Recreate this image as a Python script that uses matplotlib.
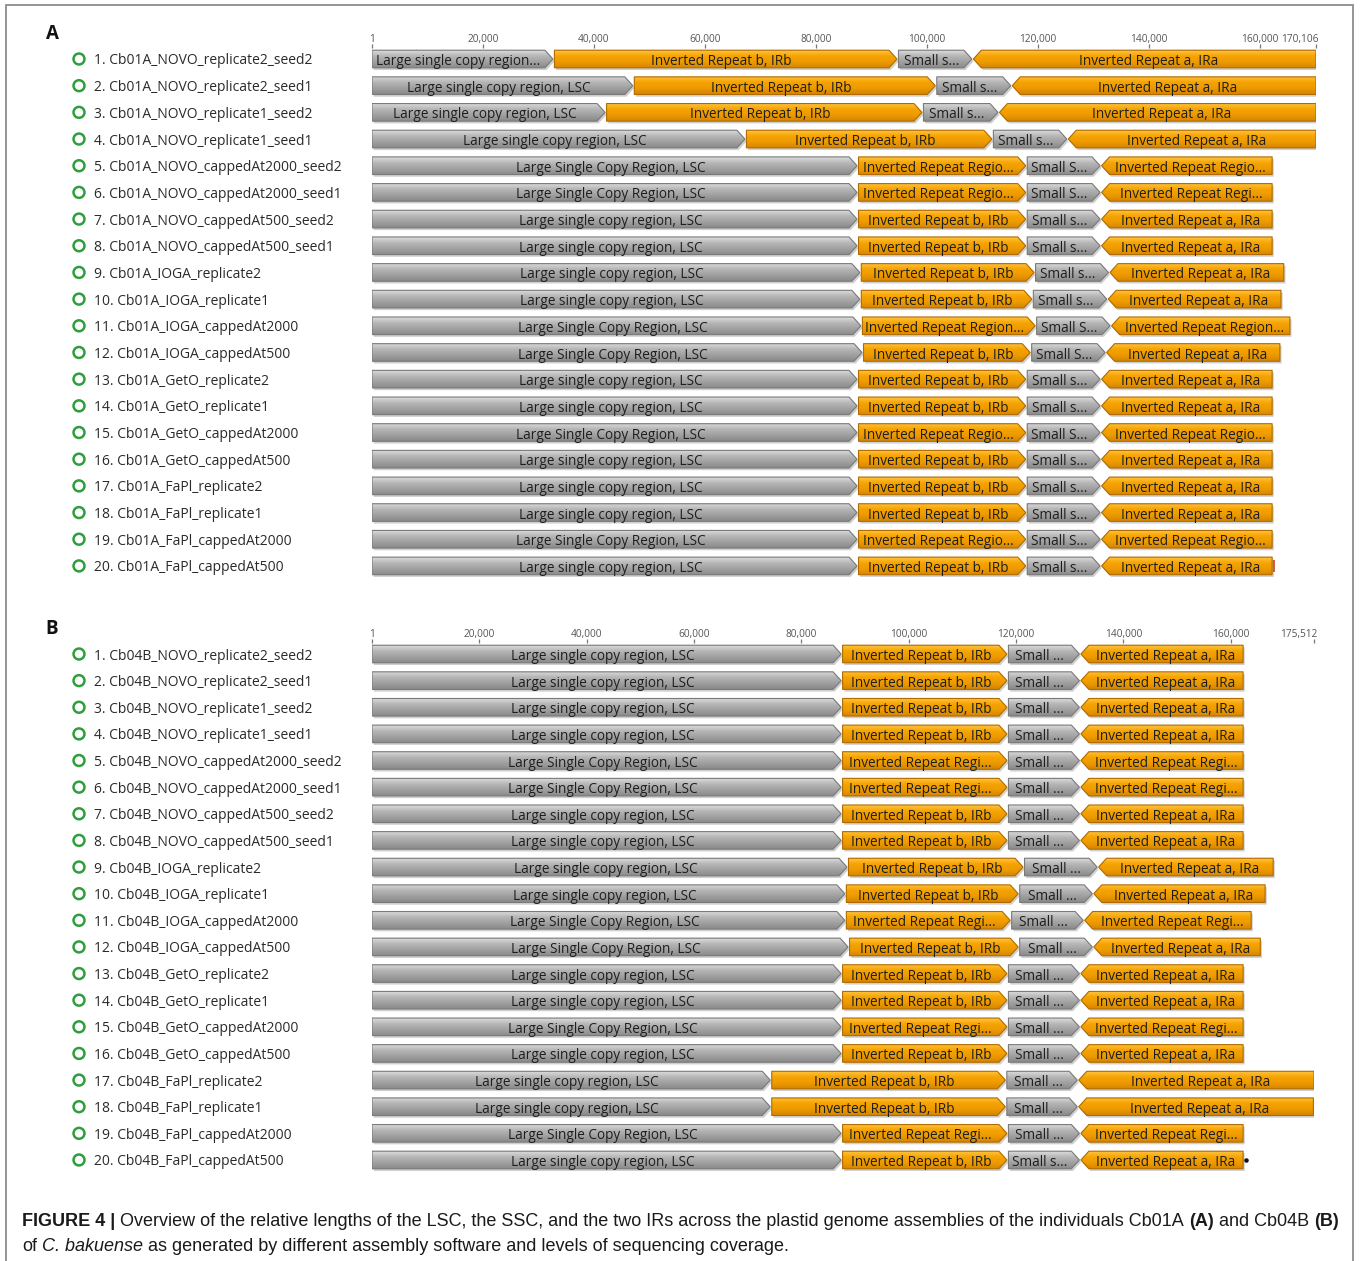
import numpy as np
import matplotlib
matplotlib.use('Agg')
import matplotlib.pyplot as plt
import matplotlib.patheffects as pe
from matplotlib.colors import LinearSegmentedColormap
from matplotlib.patches import Polygon, Rectangle
from matplotlib import transforms

W, H = 1360, 1261

runs = ['NOVO_replicate2_seed2', 'NOVO_replicate2_seed1', 'NOVO_replicate1_seed2',
        'NOVO_replicate1_seed1', 'NOVO_cappedAt2000_seed2', 'NOVO_cappedAt2000_seed1',
        'NOVO_cappedAt500_seed2', 'NOVO_cappedAt500_seed1', 'IOGA_replicate2',
        'IOGA_replicate1', 'IOGA_cappedAt2000', 'IOGA_cappedAt500', 'GetO_replicate2',
        'GetO_replicate1', 'GetO_cappedAt2000', 'GetO_cappedAt500', 'FaPl_replicate2',
        'FaPl_replicate1', 'FaPl_cappedAt2000', 'FaPl_cappedAt500']

# Cb01A: end coordinate (bp) of LSC, IRb, SSC and whole sequence for each assembly
a_lsc = [32600, 47000, 42000, 67200, 87400, 87400, 87400, 87400, 87900, 87900,
         88100, 88300, 87400, 87400, 87400, 87400, 87400, 87400, 87400, 87400]
a_irb = [94600, 101500, 99100, 111700, 117800, 117800, 117800, 117800, 119300, 118900,
         119500, 118600, 117800, 117800, 117800, 117800, 117800, 117800, 117800, 117800]
a_ssc = [108100, 115100, 112800, 125200, 131200, 131200, 131200, 131200, 132700, 132400,
         133000, 132100, 131200, 131200, 131200, 131200, 131200, 131200, 131200, 131200]
a_total = [170106, 170106, 170106, 170106, 162200, 162200, 162200, 162200, 164300, 163800,
           165400, 163600, 162200, 162200, 162200, 162200, 162200, 162200, 162200, 162200]
a_ticks = [1, 20000, 40000, 60000, 80000, 100000, 120000, 140000, 160000, 170106]

# Cb04B
b_lsc = [87400, 87400, 87400, 87400, 87400, 87400, 87400, 87400, 88500, 88100,
         88100, 88700, 87400, 87400, 87400, 87400, 74200, 74200, 87400, 87400]
b_irb = [118300, 118300, 118300, 118300, 118300, 118300, 118300, 118300, 121300, 120400,
         118900, 120400, 118300, 118300, 118300, 118300, 118000, 118000, 118300, 118300]
b_ssc = [131800, 131800, 131800, 131800, 131800, 131800, 131800, 131800, 135100, 134200,
         132500, 134200, 131800, 131800, 131800, 131800, 131400, 131400, 131800, 131800]
b_total = [162300, 162300, 162300, 162300, 162300, 162300, 162300, 162300, 167900, 166400,
           163800, 165500, 162300, 162300, 162300, 162300, 175512, 175400, 162300, 162300]
b_ticks = [1, 20000, 40000, 60000, 80000, 100000, 120000, 140000, 160000, 175512]

lc = ('Large single copy region, LSC', 'Inverted Repeat b, IRb', 'Small s...', 'Inverted Repeat a, IRa')
uc = ('Large Single Copy Region, LSC', 'Inverted Repeat b, IRb', 'Small S...', 'Inverted Repeat a, IRa')
uc_regio = ('Large Single Copy Region, LSC', 'Inverted Repeat Regio...', 'Small S...', 'Inverted Repeat Regio...')
a_labels = [
    ('Large single copy region...', 'Inverted Repeat b, IRb', 'Small s...', 'Inverted Repeat a, IRa'),
    lc, lc, lc, uc_regio,
    ('Large Single Copy Region, LSC', 'Inverted Repeat Regio...', 'Small S...', 'Inverted Repeat Regi...'),
    lc, lc, lc, lc,
    ('Large Single Copy Region, LSC', 'Inverted Repeat Region...', 'Small S...', 'Inverted Repeat Region...'),
    uc, lc, lc, uc_regio, lc, lc, lc, uc_regio, lc]

lc_b = ('Large single copy region, LSC', 'Inverted Repeat b, IRb', 'Small ...', 'Inverted Repeat a, IRa')
uc_b = ('Large Single Copy Region, LSC', 'Inverted Repeat b, IRb', 'Small ...', 'Inverted Repeat a, IRa')
uc_regi = ('Large Single Copy Region, LSC', 'Inverted Repeat Regi...', 'Small ...', 'Inverted Repeat Regi...')
b_labels = [lc_b, lc_b, lc_b, lc_b, uc_regi, uc_regi, lc_b, lc_b, lc_b, lc_b,
            uc_regi, uc_b, lc_b, lc_b, uc_regi, lc_b, lc_b, lc_b, uc_regi, lc]

GREY = LinearSegmentedColormap.from_list('g', ['#dcdcdc', '#b6b6b6', '#a0a0a0', '#8a8a8a'])
ORANGE = LinearSegmentedColormap.from_list('o', ['#ffc544', '#f6a400', '#ec9a00', '#d68500'])
EDGE = {'g': '#7a7a7a', 'o': '#b06c00'}
GRAD = np.linspace(0, 1, 64).reshape(-1, 1)
BAR_H = 0.66
UI_FONT = ['Open Sans', 'DejaVu Sans']

fig = plt.figure(figsize=(W / 100, H / 100), dpi=100)


def arrow(ax, s, e, y, tip, direction, colour, label):
    t, b = y - BAR_H / 2, y + BAR_H / 2
    if direction == 'right':
        pts = [(s, t), (e - tip, t), (e, y), (e - tip, b), (s, b)]
        cx = (s + e - tip) / 2
    else:
        pts = [(s + tip, t), (e, t), (e, b), (s + tip, b), (s, y)]
        cx = (s + tip + e) / 2
    base = Polygon(pts, closed=True, facecolor='#aaaaaa' if colour == 'g' else '#f2a000',
                   edgecolor='none', zorder=2,
                   path_effects=[pe.SimplePatchShadow(offset=(1.2, -1.6), shadow_rgbFace='#777777', alpha=0.35),
                                 pe.Normal()])
    ax.add_patch(base)
    im = ax.imshow(GRAD, cmap=GREY if colour == 'g' else ORANGE, extent=(s, e, b, t),
                   aspect='auto', origin='upper', interpolation='bilinear', zorder=3)
    im.set_clip_path(base)
    ax.add_patch(Polygon(pts, closed=True, fill=False, edgecolor=EDGE[colour], lw=0.8,
                         joinstyle='round', zorder=4))
    ax.text(cx, y + 0.02, label, ha='center', va='center_baseline', fontsize=9.8, family=UI_FONT,
            color='#1e1e1e', zorder=5)


def draw_panel(prefix, lsc, irb, ssc, total, labels, ticks, row0_px, step_px, x1_px, letter):
    n = len(lsc)
    top_px = row0_px - 1.3 * step_px
    bot_px = row0_px + (n - 0.3) * step_px
    ax = fig.add_axes([372 / W, 1 - bot_px / H, (x1_px - 372) / W, (bot_px - top_px) / H])
    ax.set_axis_off()
    xmax = ticks[-1]
    bp_per_px = (xmax - 1) / (x1_px - 372)
    tip = 8 * bp_per_px
    gap = 1.5 * bp_per_px

    for i in range(n):
        lab = labels[i]
        arrow(ax, 1, lsc[i], i, tip, 'right', 'g', lab[0])
        arrow(ax, lsc[i] + gap, irb[i], i, tip, 'right', 'o', lab[1])
        arrow(ax, irb[i] + gap, ssc[i], i, tip, 'right', 'g', lab[2])
        arrow(ax, ssc[i] + gap, total[i], i, tip, 'left', 'o', lab[3])

    # ruler
    lab_y = -0.72
    ax.vlines(ticks, -0.56, -0.42, color='#777777', lw=0.9, clip_on=False)
    for k, v in enumerate(ticks):
        ha = 'right' if k == len(ticks) - 1 else 'center'
        ax.text(v + (3 * bp_per_px if ha == 'right' else 0), lab_y, f'{v:,}', ha=ha, va='center',
                fontsize=7.3, family=UI_FONT, color='#555555')

    # assembly names with status circles
    tr = transforms.blended_transform_factory(fig.transFigure, ax.transData)
    rows = np.arange(n)
    ax.scatter(np.full(n, 79 / W), rows, s=62, facecolor='none', edgecolor='#2f9e3c',
               linewidths=1.8, transform=tr, clip_on=False, zorder=5)
    for i in range(n):
        ax.text(94 / W, i, f'{i + 1}. {prefix}_{runs[i]}', transform=tr, ha='left',
                va='center_baseline', fontsize=10, family=UI_FONT, color='#2a2a2a')

    fig.text(52 / W, 1 - (row0_px - 25) / H, letter, ha='center', va='center',
             fontsize=13.5, weight='bold', family=UI_FONT, color='#111111')

    ax.set_xlim(1, xmax)
    ax.set_ylim(n - 0.3, -1.3)
    return ax, tip, gap


ax_a, tip_a, gap_a = draw_panel('Cb01A', a_lsc, a_irb, a_ssc, a_total, a_labels, a_ticks,
                                59, 26.68, 1316, 'A')
# small feature flag at the end of the last Cb01A assembly
ax_a.vlines(a_total[-1] + gap_a, 19 - 0.22, 19 + 0.22, color='#d04020', lw=1.2, zorder=6)

ax_b, tip_b, gap_b = draw_panel('Cb04B', b_lsc, b_irb, b_ssc, b_total, b_labels, b_ticks,
                                654, 26.63, 1314, 'B')
ax_b.scatter([b_total[-1] + 2 * gap_b], [19], s=5, color='#111111', zorder=6)

# caption
CAP_FONT = ['Liberation Sans Narrow', 'Liberation Sans', 'DejaVu Sans']
renderer = fig.canvas.get_renderer()


def caption_line(y_px, pieces, size):
    sp = fig.text(0, 0, 'a a', fontsize=size, family=CAP_FONT)
    sp2 = fig.text(0, 0, 'aa', fontsize=size, family=CAP_FONT)
    space = sp.get_window_extent(renderer).width - sp2.get_window_extent(renderer).width
    sp.remove()
    sp2.remove()
    x = 22
    for txt, kw in pieces:
        t = fig.text(x / W, 1 - y_px / H, txt, fontsize=size, family=CAP_FONT, va='baseline',
                     color='#1a1a1a', **kw)
        x += t.get_window_extent(renderer).width + space
    return x - space


line1 = [('FIGURE 4 |', dict(weight='bold')),
         ('Overview of the relative lengths of the LSC, the SSC, and the two IRs across the plastid '
          'genome assemblies of the individuals Cb01A', {}),
         ('(A)', dict(weight='bold')), ('and Cb04B', {}), ('(B)', dict(weight='bold'))]
line2 = [('of', {}), ('C. bakuense', dict(style='italic')),
         ('as generated by different assembly software and levels of sequencing coverage.', {})]

# fit the first caption line between the frame margins
probe = fig.text(0, 0, ' '.join(p[0] for p in line1), fontsize=12, family=CAP_FONT)
size = 12 * 1312 / probe.get_window_extent(renderer).width
probe.remove()
caption_line(1226, line1, size)
caption_line(1251, line2, size)

# frame around the figure
fig.patches.append(Rectangle((6 / W, -0.01), (1353 - 6) / W, 1.01 - 5 / H, transform=fig.transFigure,
                             fill=False, edgecolor='#8c8c8c', lw=1.3))

fig.savefig('out.png', dpi=100)
